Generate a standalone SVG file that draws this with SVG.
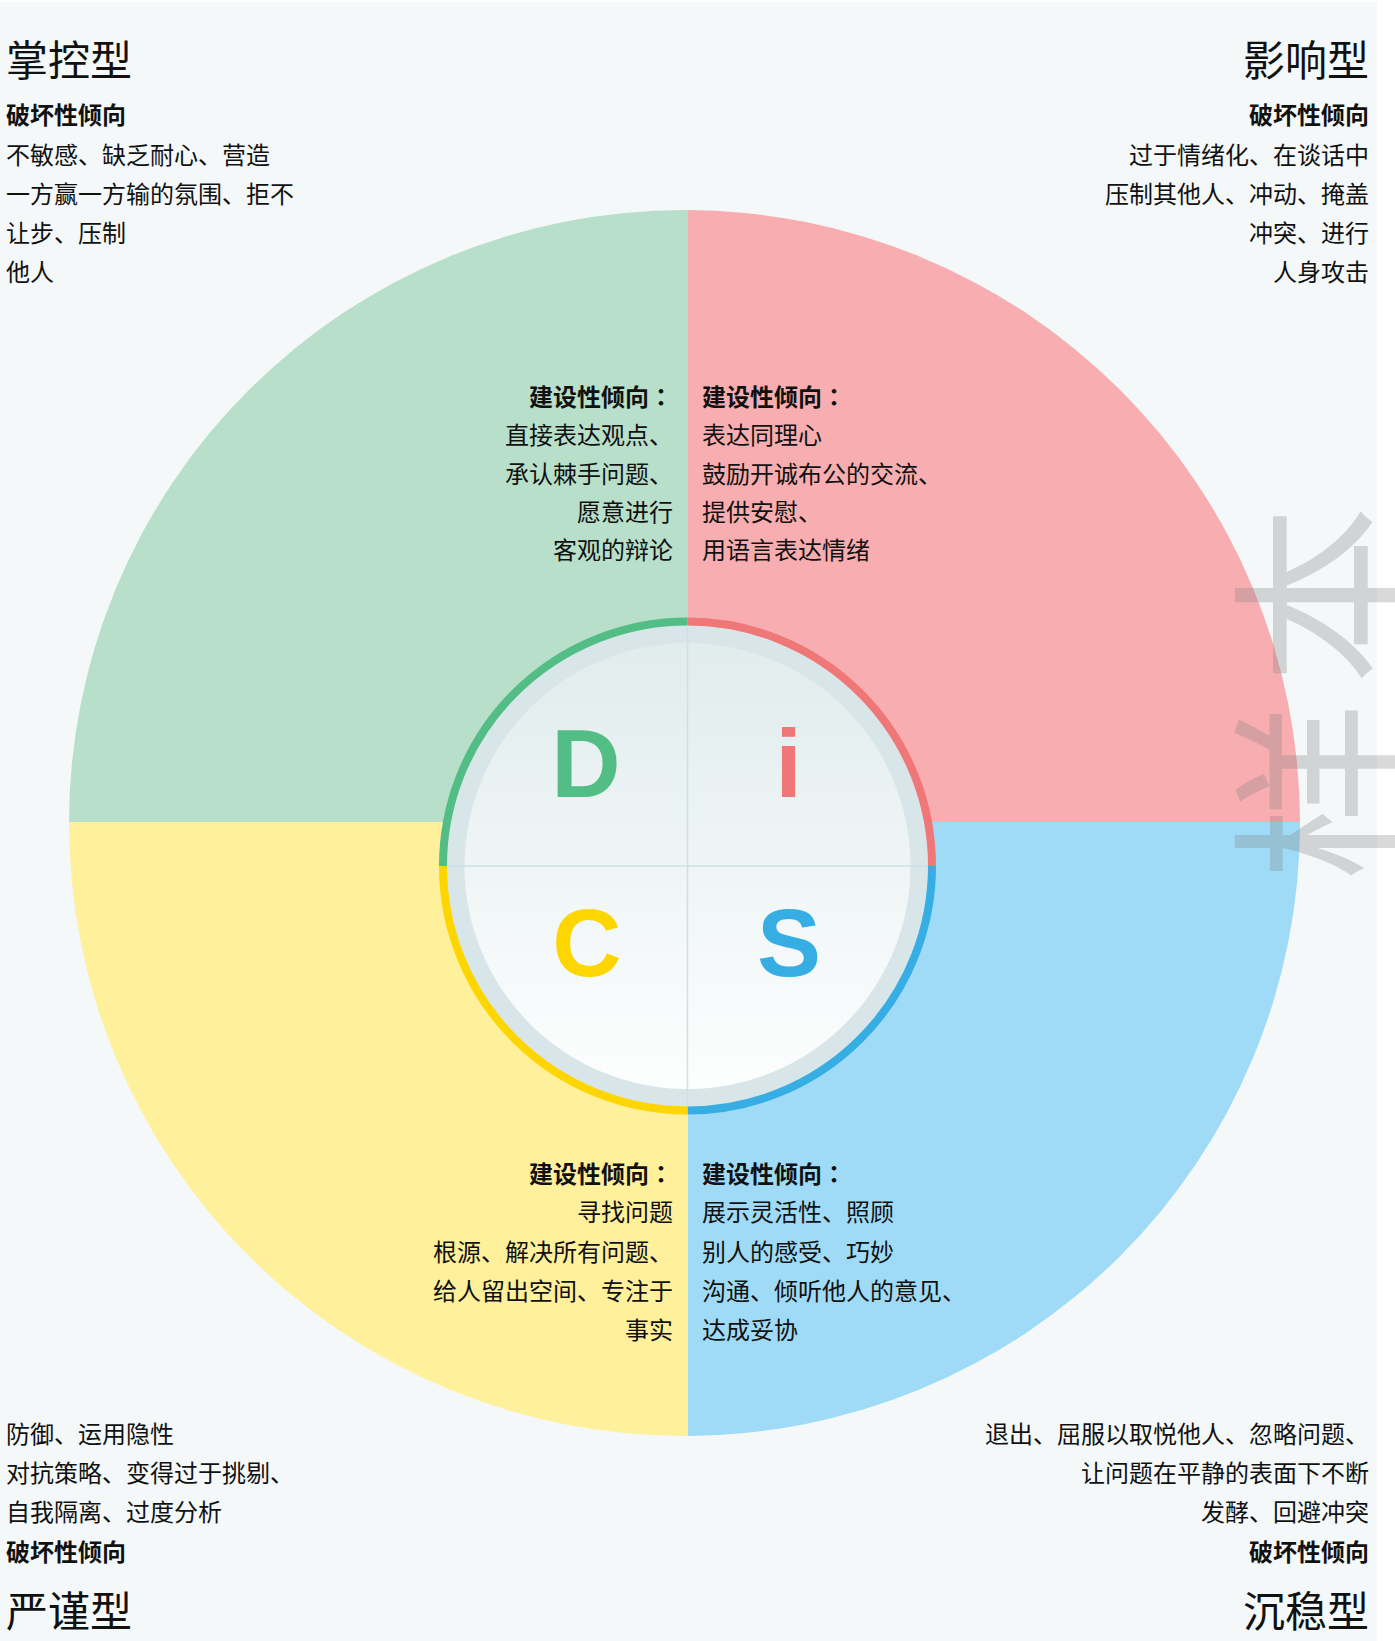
<svg xmlns="http://www.w3.org/2000/svg" width="1395" height="1641" viewBox="0 0 1395 1641">
  <style>
    .t { font-family: "Noto Sans CJK SC", "Noto Sans", sans-serif; fill: #111; }
    .title { font-size: 42px; }
    .body { font-size: 24px; }
    .b { font-weight: 700; }
    .end { text-anchor: end; }
    .colon { font-family: "Noto Sans CJK TC", "Noto Sans CJK JP", sans-serif; }
    .letter { font-family: "Liberation Sans", Arial, sans-serif; font-weight: 700; font-size: 96px; text-anchor: middle; }
    .cross { stroke: #cde0e6; stroke-width: 1.5; fill: none; }
    .ring { fill: none; stroke-width: 8; }
  </style>
  <defs>
    <clipPath id="cTL"><rect x="0" y="0" width="688" height="822"/></clipPath>
    <clipPath id="cTR"><rect x="688" y="0" width="707" height="822"/></clipPath>
    <clipPath id="cBL"><rect x="0" y="822" width="688" height="819"/></clipPath>
    <clipPath id="cBR"><rect x="688" y="822" width="707" height="819"/></clipPath>
    <linearGradient id="disc" x1="0" y1="0" x2="0" y2="1">
      <stop offset="0" stop-color="#e1eced"/>
      <stop offset="1" stop-color="#fdfefe"/>
    </linearGradient>
  </defs>

  <rect x="0" y="0" width="1395" height="1641" fill="#ffffff"/>
  <rect x="0" y="2" width="1377" height="1639" fill="#f4f8f9"/>

  <g id="quadrant-D">
    <ellipse cx="684.5" cy="823" rx="615.5" ry="613" fill="#b7dfca" clip-path="url(#cTL)"/>
  </g>
  <g id="quadrant-i">
    <ellipse cx="684.5" cy="823" rx="615.5" ry="613" fill="#f8aeb0" clip-path="url(#cTR)"/>
  </g>
  <g id="quadrant-C">
    <ellipse cx="684.5" cy="823" rx="615.5" ry="613" fill="#fff09c" clip-path="url(#cBL)"/>
  </g>
  <g id="quadrant-S">
    <ellipse cx="684.5" cy="823" rx="615.5" ry="613" fill="#9fdbf6" clip-path="url(#cBR)"/>
  </g>

  <g id="center-disc">
    <circle cx="687.5" cy="866" r="241" fill="#d8e6ea"/>
    <circle cx="687.5" cy="866" r="223" fill="url(#disc)"/>
    <path class="ring" stroke="#52bd84" d="M443,866 A244.5,244.5 0 0 1 687.5,621.5"/>
    <path class="ring" stroke="#f07778" d="M687.5,621.5 A244.5,244.5 0 0 1 932,866"/>
    <path class="ring" stroke="#36aee3" d="M932,866 A244.5,244.5 0 0 1 687.5,1110.5"/>
    <path class="ring" stroke="#fdd600" d="M687.5,1110.5 A244.5,244.5 0 0 1 443,866"/>
    <line class="cross" x1="447" y1="866" x2="928" y2="866"/>
    <line class="cross" x1="687.5" y1="625.5" x2="687.5" y2="1106.5"/>
    <text class="letter" x="586" y="797" fill="#52bd84">D</text>
    <text class="letter" x="788.5" y="797" fill="#f07778">i</text>
    <text class="letter" x="587" y="976" fill="#fdd600">C</text>
    <text class="letter" x="789" y="976" fill="#36aee3">S</text>
  </g>

  <g id="label-D">
    <text class="t title" x="6" y="76">掌控型</text>
    <text class="t body b" x="6" y="124">破坏性倾向</text>
    <text class="t body" x="6" y="163.5">不敏感、缺乏耐心、营造</text>
    <text class="t body" x="6" y="202.5">一方赢一方输的氛围、拒不</text>
    <text class="t body" x="6" y="242">让步、压制</text>
    <text class="t body" x="6" y="281">他人</text>
  </g>
  <g id="label-i">
    <text class="t title end" x="1369" y="76">影响型</text>
    <text class="t body b end" x="1369" y="124">破坏性倾向</text>
    <text class="t body end" x="1369" y="163.5">过于情绪化、在谈话中</text>
    <text class="t body end" x="1369" y="202.5">压制其他人、冲动、掩盖</text>
    <text class="t body end" x="1369" y="242">冲突、进行</text>
    <text class="t body end" x="1369" y="281">人身攻击</text>
  </g>
  <g id="label-C">
    <text class="t body" x="6" y="1442.5">防御、运用隐性</text>
    <text class="t body" x="6" y="1482">对抗策略、变得过于挑剔、</text>
    <text class="t body" x="6" y="1521">自我隔离、过度分析</text>
    <text class="t body b" x="6" y="1560.5">破坏性倾向</text>
    <text class="t title" x="6" y="1627">严谨型</text>
  </g>
  <g id="label-S">
    <text class="t body end" x="1369" y="1442.5">退出、屈服以取悦他人、忽略问题、</text>
    <text class="t body end" x="1369" y="1482">让问题在平静的表面下不断</text>
    <text class="t body end" x="1369" y="1521">发酵、回避冲突</text>
    <text class="t body b end" x="1369" y="1560.5">破坏性倾向</text>
    <text class="t title end" x="1369" y="1627">沉稳型</text>
  </g>

  <g id="constructive-D">
    <text class="t body b end" x="673" y="405.5">建设性倾向<tspan class="colon">：</tspan></text>
    <text class="t body end" x="673" y="444">直接表达观点、</text>
    <text class="t body end" x="673" y="482.5">承认棘手问题、</text>
    <text class="t body end" x="673" y="521">愿意进行</text>
    <text class="t body end" x="673" y="559">客观的辩论</text>
  </g>
  <g id="constructive-i">
    <text class="t body b" x="702" y="405.5">建设性倾向<tspan class="colon">：</tspan></text>
    <text class="t body" x="702" y="444">表达同理心</text>
    <text class="t body" x="702" y="482.5">鼓励开诚布公的交流、</text>
    <text class="t body" x="702" y="521">提供安慰、</text>
    <text class="t body" x="702" y="559">用语言表达情绪</text>
  </g>
  <g id="constructive-C">
    <text class="t body b end" x="673" y="1182.5">建设性倾向<tspan class="colon">：</tspan></text>
    <text class="t body end" x="673" y="1221">寻找问题</text>
    <text class="t body end" x="673" y="1260.5">根源、解决所有问题、</text>
    <text class="t body end" x="673" y="1300">给人留出空间、专注于</text>
    <text class="t body end" x="673" y="1339">事实</text>
  </g>
  <g id="constructive-S">
    <text class="t body b" x="702" y="1182.5">建设性倾向<tspan class="colon">：</tspan></text>
    <text class="t body" x="702" y="1221">展示灵活性、照顾</text>
    <text class="t body" x="702" y="1260.5">别人的感受、巧妙</text>
    <text class="t body" x="702" y="1300">沟通、倾听他人的意见、</text>
    <text class="t body" x="702" y="1339">达成妥协</text>
  </g>

  <g id="watermark">
    <text x="0" y="0" transform="translate(1386,881) rotate(-90)" font-family="'Noto Sans CJK SC', sans-serif" font-size="180" letter-spacing="16" fill="#808080" fill-opacity="0.3">样本</text>
  </g>
</svg>
